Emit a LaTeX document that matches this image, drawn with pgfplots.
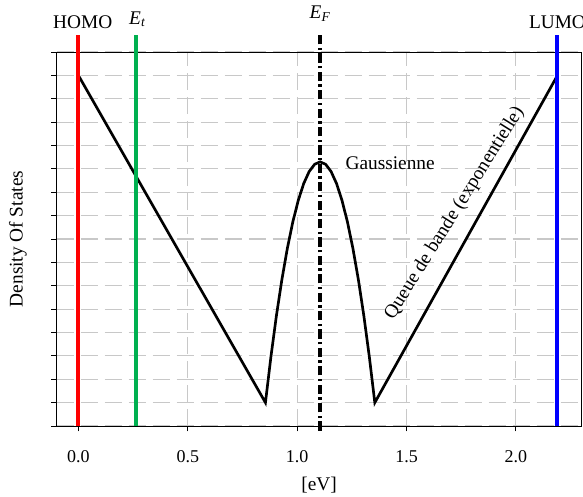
\documentclass[border=0pt]{standalone}
\usepackage{fontspec}
\setmainfont{Liberation Serif}
\usepackage{pgfplots}
\pgfplotsset{compat=1.18}
\definecolor{homored}{RGB}{255,0,0}
\definecolor{etgreen}{RGB}{0,176,80}
\definecolor{lumoblue}{RGB}{0,0,255}
\definecolor{gridgray}{RGB}{200,200,200}
\newcommand{\lab}{\fontsize{14.5}{17}\selectfont}
\newcommand{\tlab}{\fontsize{13.5}{16}\selectfont}
\begin{document}
\begin{tikzpicture}
\useasboundingbox (-42.4pt,-53.25pt) rectangle (394.85pt,319.5pt);
\begin{axis}[
  scale only axis,
  width=393.75pt, height=280.5pt,
  xmin=-0.1, xmax=2.3, ymin=0, ymax=16,
  xtick={0,0.5,1,1.5,2},
  ytick={0,1,...,16},
  yticklabels={},
  xticklabel style={font=\tlab, yshift=-11pt},
  /pgf/number format/assume math mode=true,
  /pgf/number format/fixed,
  /pgf/number format/fixed zerofill,
  /pgf/number format/precision=1,
  tick align=outside,
  xtick pos=bottom, ytick pos=left,
  major tick length=4pt,
  tick style={black, line width=0.75pt},
  axis line style={line width=0.75pt},
  grid=major,
  major grid style={gridgray, line width=0.8pt, dash pattern=on 13pt off 5pt},
  xlabel={[eV]},
  ylabel={Density Of States},
  xlabel style={font=\lab, at={(axis description cs:0.5,-0.157)}, anchor=center},
  ylabel style={font=\lab, at={(axis description cs:-0.0737,0.5)}, anchor=center, rotate=0},
  clip=false,
]
\addplot[black, line width=2pt, line join=miter] coordinates {
  (0,15) (0.855,1)
  (0.88,2.957) (0.905,4.708) (0.93,6.253) (0.955,7.592) (0.98,8.725)
  (1.005,9.652) (1.03,10.373) (1.055,10.888) (1.08,11.197) (1.105,11.3)
  (1.13,11.197) (1.155,10.888) (1.18,10.373) (1.205,9.652) (1.23,8.725)
  (1.255,7.592) (1.28,6.253) (1.305,4.708) (1.33,2.957) (1.355,1)
  (2.19,15)
};
\addplot[homored, line width=3pt] coordinates {(0,0) (0,16.73)};
\addplot[etgreen, line width=3pt] coordinates {(0.265,0) (0.265,16.73)};
\addplot[lumoblue, line width=3pt] coordinates {(2.19,0) (2.19,16.73)};
\addplot[black, line width=3pt, dash pattern=on 7pt off 2.5pt on 1.8pt off 2.5pt] coordinates {(1.105,-0.2) (1.105,16.73)};
\node[font=\lab] at (axis cs:0.02,17.28) {HOMO};
\node[font=\lab] at (axis cs:0.27,17.4) {\textit{E}\textsubscript{\textit{t}}};
\node[font=\lab] at (axis cs:1.105,17.65) {\textit{E}\textsubscript{\textit{F}}};
\node[font=\lab] at (axis cs:2.19,17.28) {LUMO};
\node[font=\lab, anchor=west] at (axis cs:1.2,11.25) {Gaussienne};
\node[font=\lab, rotate=58] at (axis cs:1.72,9.1) {Queue de bande (exponentielle)};
\end{axis}
\end{tikzpicture}
\end{document}
